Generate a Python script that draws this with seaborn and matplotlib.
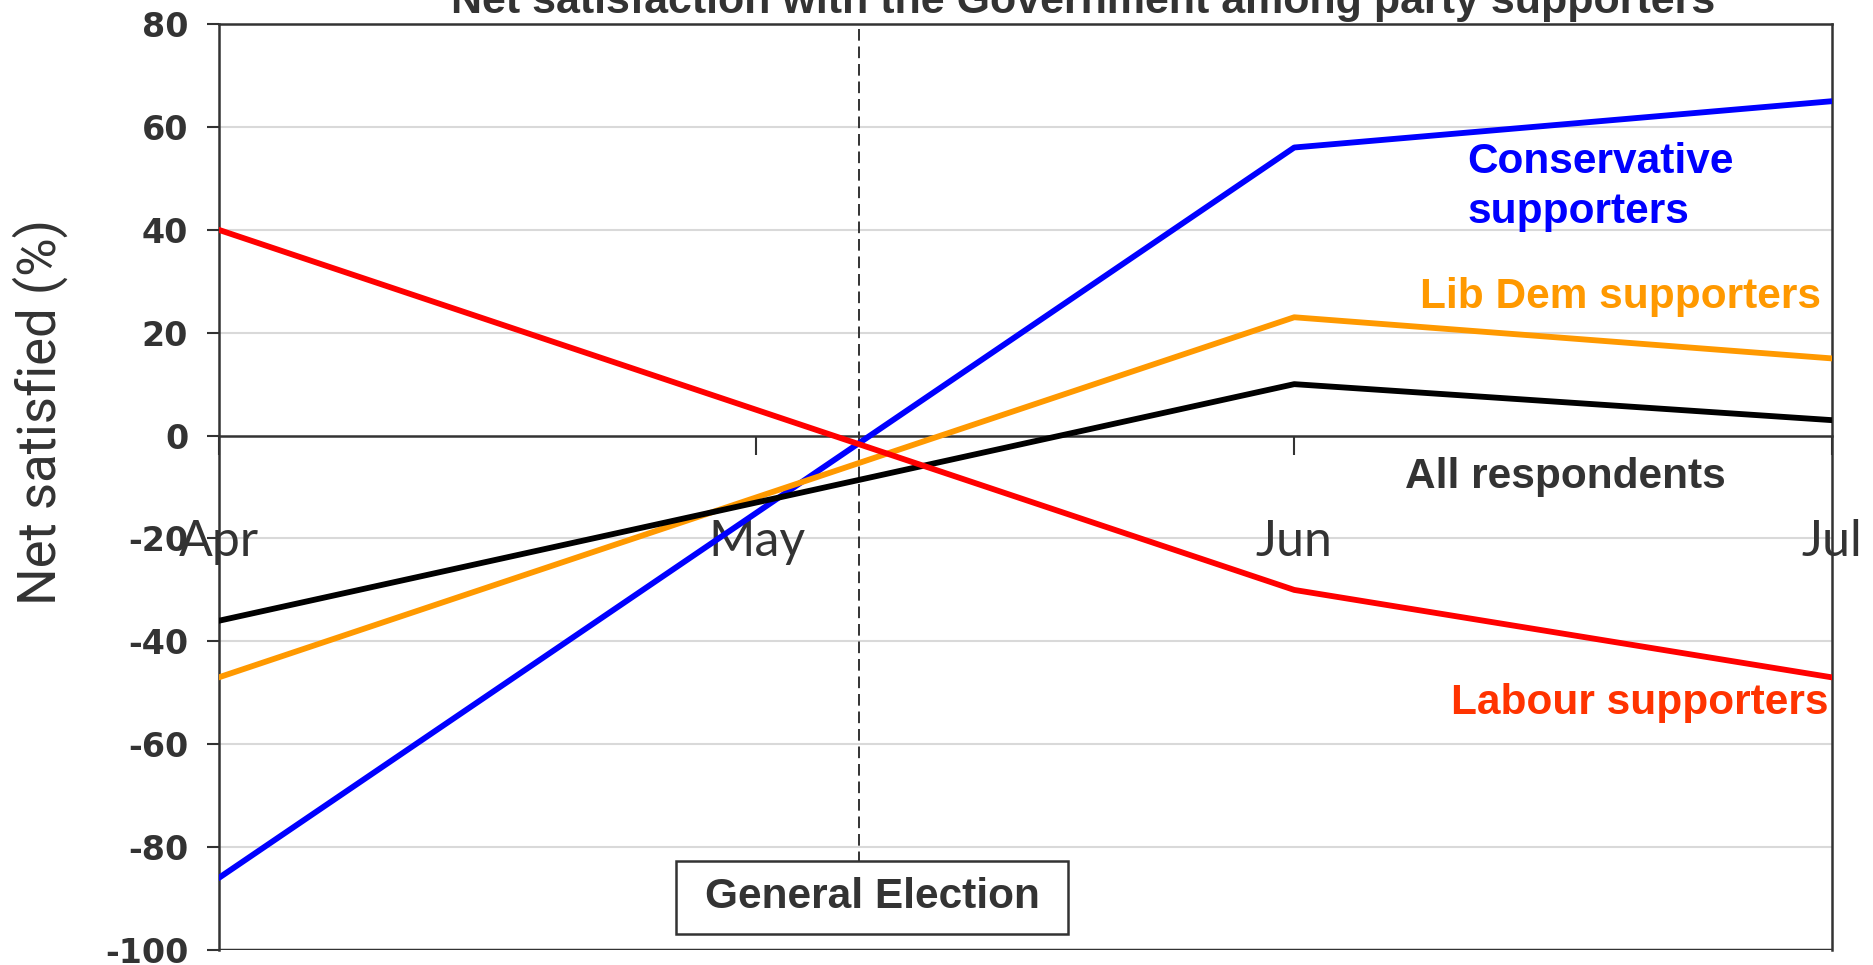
import pandas as pd
import numpy as np
import matplotlib
matplotlib.use("Agg")
import matplotlib.pyplot as plt
import seaborn as sns
from matplotlib.patches import Rectangle

# data (Apr, Jun, Jul)
months = ["Apr", "May", "Jun", "Jul"]
month_pos = [0, 1, 2, 3]
obs_pos = [0, 2, 3]
conservative = [-86, 56, 65]
lib_dem = [-47, 23, 15]
all_resp = [-36, 10, 3]
labour = [40, -30, -47]

series_names = ["Conservative", "Lib Dem", "All", "Labour"]
colors = {"Conservative": "#0000FF", "Lib Dem": "#FF9900", "All": "#000000", "Labour": "#FF0000"}
election_pos = 1.19

rows = []
for name, vals in zip(series_names, [conservative, lib_dem, all_resp, labour]):
    for p, v in zip(obs_pos, vals):
        rows.append({"month": p, "net": v, "group": name})
df = pd.DataFrame(rows)

sns.set_style("white")
plt.rcParams["axes.unicode_minus"] = False
dark = "#333333"

fig = plt.figure(figsize=(18.74, 9.65), dpi=100)
ax = fig.add_axes([0.1167, 0.0155, 0.8609, 0.9596])

for y in range(-80, 80, 20):
    if y != 0:
        ax.axhline(y, color="#D9D9D9", lw=1.5, zorder=0)

sns.lineplot(data=df, x="month", y="net", hue="group", hue_order=series_names,
             palette=colors, lw=4.2, legend=False, ax=ax, zorder=3)

# move the x axis to y=0 first (this resets the ticks)
ax.spines["bottom"].set_position(("data", 0))
for s in ["left", "right", "top", "bottom"]:
    ax.spines[s].set_color(dark)
    ax.spines[s].set_linewidth(1.8)
ax.axhline(-100, color=dark, lw=2.5, zorder=4)

ax.set_xlim(0, 3)
ax.set_ylim(-100, 80)
ax.set_yticks(range(-100, 81, 20))
ax.set_xticks(month_pos)
ax.set_xticklabels(months)
ax.tick_params(axis="y", direction="out", length=9, width=1.5, color=dark, left=True, pad=13)
ax.tick_params(axis="x", direction="out", length=14, width=1.5, color=dark, bottom=True,
               pad=46, labelsize=36, labelcolor=dark)
for lab in ax.get_yticklabels():
    lab.set_fontweight("bold")
    lab.set_fontsize(24)
    lab.set_color(dark)
for lab in ax.get_xticklabels():
    lab.set_family(["Lato", "DejaVu Sans"])

ax.set_xlabel("")
ax.set_ylabel("Net satisfied (%)", fontsize=38, color=dark,
              family=["Roboto", "DejaVu Sans"])
ax.yaxis.set_label_coords(-0.0937, 0.581)

# general election marker
box_w, box_y0, box_y1 = 0.73, -96.8, -82.6
ax.plot([election_pos, election_pos], [79, box_y1], color=dark, lw=1.4,
        ls=(0, (6, 3)), zorder=2)
ax.add_patch(Rectangle((election_pos - 0.34, box_y0), box_w, box_y1 - box_y0,
                       fc="white", ec=dark, lw=1.8, zorder=5))
ax.text(election_pos - 0.34 + box_w / 2, (box_y0 + box_y1) / 2, "General Election",
        ha="center", va="center", fontsize=30.5, fontweight="bold", color=dark,
        family="Liberation Sans", zorder=6)

lab_kw = dict(fontsize=30.5, fontweight="bold", family="Liberation Sans", zorder=6)
ax.text(2.322, 48.3, "Conservative\nsupporters", ha="left", va="center",
        color="#0000FF", linespacing=1.34, **lab_kw)
ax.text(2.98, 27.0, "Lib Dem supporters", ha="right", va="center", color="#FF9900", **lab_kw)
ax.text(2.504, -8.0, "All respondents", ha="center", va="center", color=dark, **lab_kw)
ax.text(2.993, -52.0, "Labour supporters", ha="right", va="center", color="#FF3300", **lab_kw)

fig.text(0.578, 1 - 13 / 965, "Net satisfaction with the Government among party supporters",
         ha="center", va="baseline", fontsize=31, fontweight="bold", color=dark,
         family="Liberation Sans")

fig.savefig("out.png", dpi=100)
